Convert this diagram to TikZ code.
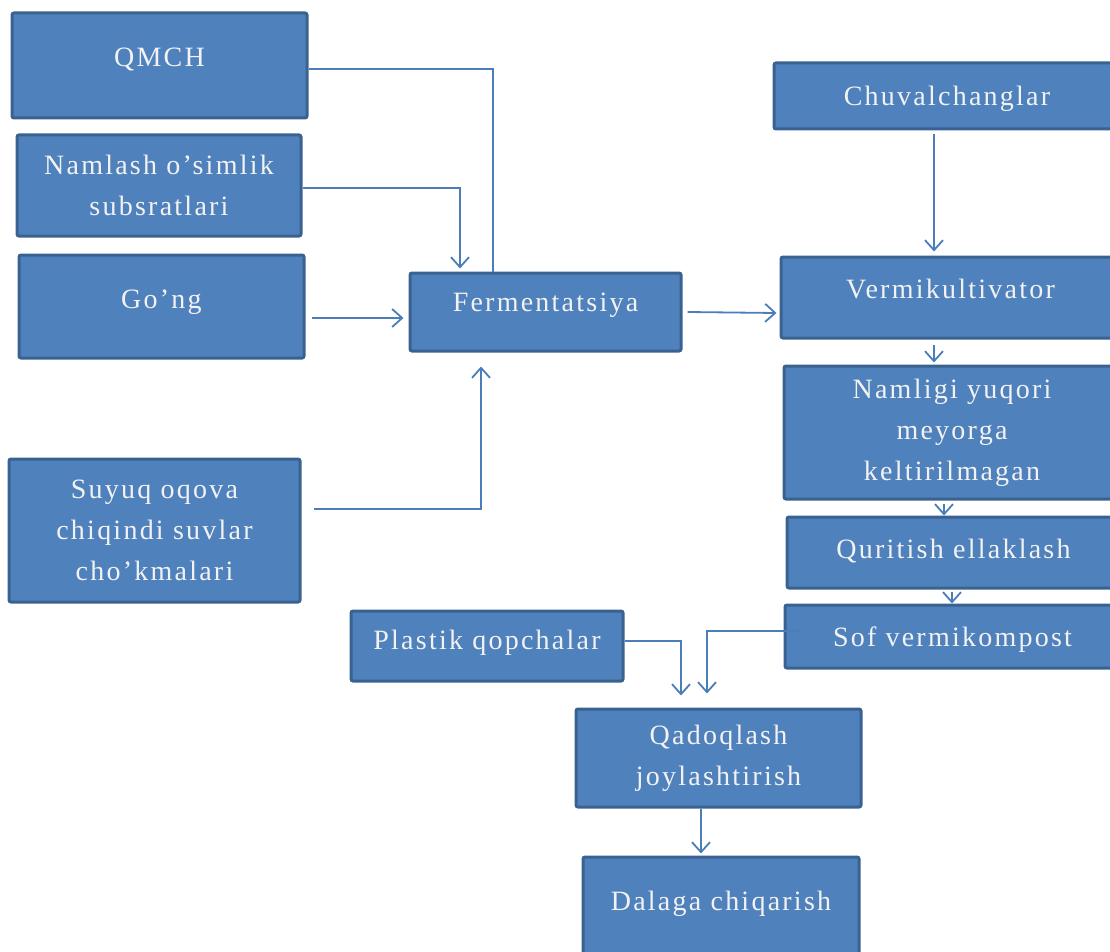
\documentclass[tikz,border=0pt]{standalone}
\usepackage{fontspec}
\setmainfont{Liberation Serif}[LetterSpace=8]
\usetikzlibrary{arrows.meta}
\definecolor{qutiko}{HTML}{4F81BD}
\definecolor{chegara}{HTML}{3A6291}
\definecolor{chiziqko}{HTML}{4A7EBB}
\definecolor{yozuv}{HTML}{F2F2F2}
\begin{document}
\begin{tikzpicture}[x=1pt,y=-1pt,
  blok/.style={rectangle, fill=qutiko, draw=chegara, line width=3pt, rounded corners=2pt,
    text=yozuv, align=center, inner sep=0pt, font=\fontsize{28}{41}\selectfont},
  siljit/.style={text height=20pt, text depth=#1},
  chiziq/.style={draw=chiziqko, line width=1.8pt},
  strelka/.style={chiziq, -{Straight Barb[length=10pt,width=18pt]}}]

\useasboundingbox (0,0) rectangle (1110,952);
\clip (0,0) rectangle (1110,952);

\node[blok, minimum width=295pt, minimum height=105pt, siljit=18pt] (qmch) at (159.5,65.5) {QMCH};
\node[blok, minimum width=284pt, minimum height=101pt] (namlash) at (159,185.5) {Namlash o’simlik\\subsratlari};
\node[blok, minimum width=285pt, minimum height=103pt, siljit=17pt] (gong) at (161.5,306.5) {Go’ng};
\node[blok, minimum width=291pt, minimum height=143pt] (suyuq) at (154.5,530.5) {Suyuq oqova\\chiqindi suvlar\\cho’kmalari};

\node[blok, minimum width=271pt, minimum height=78pt, siljit=21pt] (ferm) at (545.5,312) {Fermentatsiya};

\node[blok, minimum width=346pt, minimum height=66pt, siljit=1pt] (chuval) at (947,96) {Chuvalchanglar};
\node[blok, minimum width=339pt, minimum height=81pt, siljit=19pt] (vermi) at (950.5,297.5) {Vermikultivator};
\node[blok, minimum width=336pt, minimum height=133pt] (namligi) at (952,432.5) {Namligi yuqori\\meyorga\\keltirilmagan};
\node[blok, minimum width=333pt, minimum height=71pt, siljit=9pt] (quritish) at (953.5,552.5) {Quritish ellaklash};
\node[blok, minimum width=335pt, minimum height=63pt, siljit=1pt] (sof) at (952.5,636.5) {Sof vermikompost};

\node[blok, minimum width=272pt, minimum height=70pt, siljit=13pt] (plastik) at (487,646) {Plastik qopchalar};
\node[blok, minimum width=285pt, minimum height=98pt] (qadoq) at (718.5,758) {Qadoqlash\\joylashtirish};
\node[blok, minimum width=276pt, minimum height=108pt, siljit=22pt] (dalaga) at (721,911) {Dalaga chiqarish};


\draw[chiziq]  ([yshift=-3.5pt]qmch.east) -| ([xshift=-52.5pt]ferm.north);
\draw[strelka] ([yshift=-2.5pt]namlash.east) -| ([xshift=-85.5pt,yshift=3pt]ferm.north);
\draw[strelka] ([xshift=6pt,yshift=-11.5pt]gong.east) -- ([xshift=-5pt,yshift=-6pt]ferm.west);
\draw[strelka] ([xshift=12pt,yshift=21.5pt]suyuq.east) -| ([xshift=-64.5pt,yshift=-14pt]ferm.south);

\draw[strelka] ([xshift=5pt]ferm.east) -- ([xshift=-3pt,yshift=-15.5pt]vermi.west);
\draw[strelka] ([xshift=-13pt,yshift=-4pt]chuval.south) -- ([xshift=-16.5pt,yshift=4pt]vermi.north);
\draw[strelka] ([xshift=-16.5pt,yshift=-5pt]vermi.south) -- ([xshift=-18pt,yshift=2pt]namligi.north);
\draw[strelka] ([xshift=-8pt,yshift=-3pt]namligi.south) -- ([xshift=-9.5pt]quritish.north);
\draw[strelka] ([xshift=-1.5pt,yshift=-2pt]quritish.south) -- ([xshift=-0.5pt]sof.north);

\draw[strelka] ([xshift=15pt,yshift=5.5pt]sof.west) -| ([xshift=-11.5pt,yshift=14pt]qadoq.north);
\draw[strelka] ([yshift=5pt]plastik.east) -| ([xshift=-37.5pt,yshift=12pt]qadoq.north);
\draw[strelka] ([xshift=-17.5pt]qadoq.south) -- ([xshift=-20pt,yshift=2pt]dalaga.north);

\end{tikzpicture}
\end{document}
